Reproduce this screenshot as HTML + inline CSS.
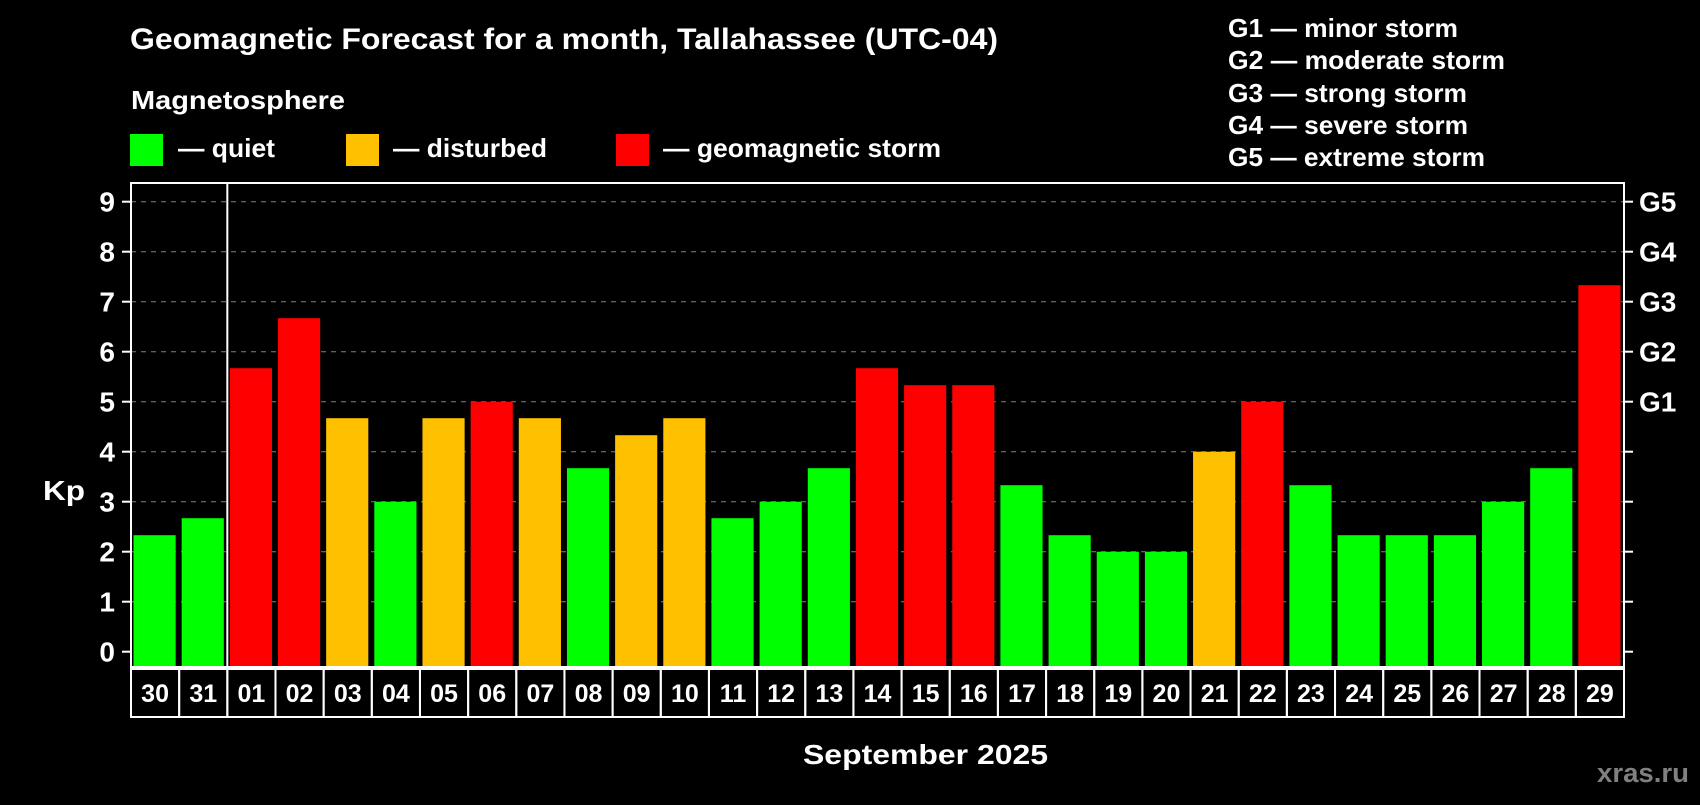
<!DOCTYPE html>
<html><head><meta charset="utf-8"><style>
body{margin:0;background:#000;width:1700px;height:800px;overflow:hidden;font-family:"Liberation Sans",sans-serif;}
svg text{font-family:"Liberation Sans",sans-serif;font-weight:bold;fill:#fff;}
</style></head><body>
<svg id="c" width="1700" height="800">
<text x="130" y="49" font-size="30" textLength="868" lengthAdjust="spacingAndGlyphs">Geomagnetic Forecast for a month, Tallahassee (UTC-04)</text>
<text x="131" y="109" font-size="26" textLength="214" lengthAdjust="spacingAndGlyphs">Magnetosphere</text>
<rect x="130" y="134" width="33" height="32" fill="#00ff00"/>
<text x="178" y="157" font-size="26" textLength="97" lengthAdjust="spacingAndGlyphs">— quiet</text>
<rect x="346" y="134" width="33" height="32" fill="#ffc000"/>
<text x="393" y="157" font-size="26" textLength="154" lengthAdjust="spacingAndGlyphs">— disturbed</text>
<rect x="616" y="134" width="33" height="32" fill="#ff0000"/>
<text x="663" y="157" font-size="26" textLength="278" lengthAdjust="spacingAndGlyphs">— geomagnetic storm</text>
<g font-size="26">
<text x="1228" y="37" textLength="230" lengthAdjust="spacingAndGlyphs">G1 — minor storm</text>
<text x="1228" y="69" textLength="277" lengthAdjust="spacingAndGlyphs">G2 — moderate storm</text>
<text x="1228" y="102" textLength="239" lengthAdjust="spacingAndGlyphs">G3 — strong storm</text>
<text x="1228" y="134" textLength="240" lengthAdjust="spacingAndGlyphs">G4 — severe storm</text>
<text x="1228" y="166" textLength="257" lengthAdjust="spacingAndGlyphs">G5 — extreme storm</text>
</g>
<text x="43" y="500" font-size="28" textLength="42" lengthAdjust="spacingAndGlyphs">Kp</text>
<text x="803" y="764" font-size="28" textLength="245" lengthAdjust="spacingAndGlyphs">September 2025</text>
<text x="1597" y="782" font-size="27" textLength="92" lengthAdjust="spacingAndGlyphs" style="fill:#808080">xras.ru</text>
<g id="plot"></g>
</svg>
<script>
const days=["30","31","01","02","03","04","05","06","07","08","09","10","11","12","13","14","15","16","17","18","19","20","21","22","23","24","25","26","27","28","29"];
const kp=[2.33,2.67,5.67,6.67,4.67,3,4.67,5,4.67,3.67,4.33,4.67,2.67,3,3.67,5.67,5.33,5.33,3.33,2.33,2,2,4,5,3.33,2.33,2.33,2.33,3,3.67,7.33];
const yTicks=[0,1,2,3,4,5,6,7,8,9];
const gLabels=["","","","","","G1","G2","G3","G4","G5"];
const L=131,R=1624,T=183,B=667;
const y=v=>651.7-v*50;
const slot=(R-L)/days.length;
const x=i=>L+i*slot;
const g=document.getElementById('plot');
const NS='http://www.w3.org/2000/svg';
function mk(t,a){const e=document.createElementNS(NS,t);for(const k in a)e.setAttribute(k,a[k]);g.appendChild(e);return e;}
yTicks.forEach((t,i)=>{
 if(t>0){const l=mk('line',{x1:L,x2:R,y1:y(t),y2:y(t),stroke:'#808080','stroke-dasharray':'5,5','stroke-width':1});
 
 }
 mk('line',{x1:L-9,x2:L,y1:y(t),y2:y(t),stroke:'#fff','stroke-width':2});
 mk('line',{x1:R,x2:R+9,y1:y(t),y2:y(t),stroke:'#fff','stroke-width':2});
 const tx=mk('text',{x:L-16,y:y(t)+10,'font-size':28,'text-anchor':'end'});tx.textContent=t;
 
 
 if(gLabels[i]){const gt=mk('text',{x:R+15,y:y(t)+10,'font-size':28});gt.textContent=gLabels[i];
 
 }
});
kp.forEach((v,i)=>{
 const c=v>=5?'#ff0000':(v>=4?'#ffc000':'#00ff00');
 const r=mk('rect',{x:x(i)+2.5,y:y(v),width:slot-6,height:B-y(v),fill:c});
 
 
 const cell=mk('rect',{x:x(i),y:669,width:slot,height:48,fill:'none',stroke:'#fff','stroke-width':2});
 
 
 const t=mk('text',{x:x(i)+slot/2,y:702,'font-size':25,'text-anchor':'middle'});t.textContent=days[i];
 
 
});
const f=mk('rect',{x:L,y:T,width:R-L,height:B-T,fill:'none',stroke:'#fff','stroke-width':2});


const d=mk('line',{x1:x(2),x2:x(2),y1:T,y2:B,stroke:'#fff','stroke-width':2});


</script>
</body></html>
